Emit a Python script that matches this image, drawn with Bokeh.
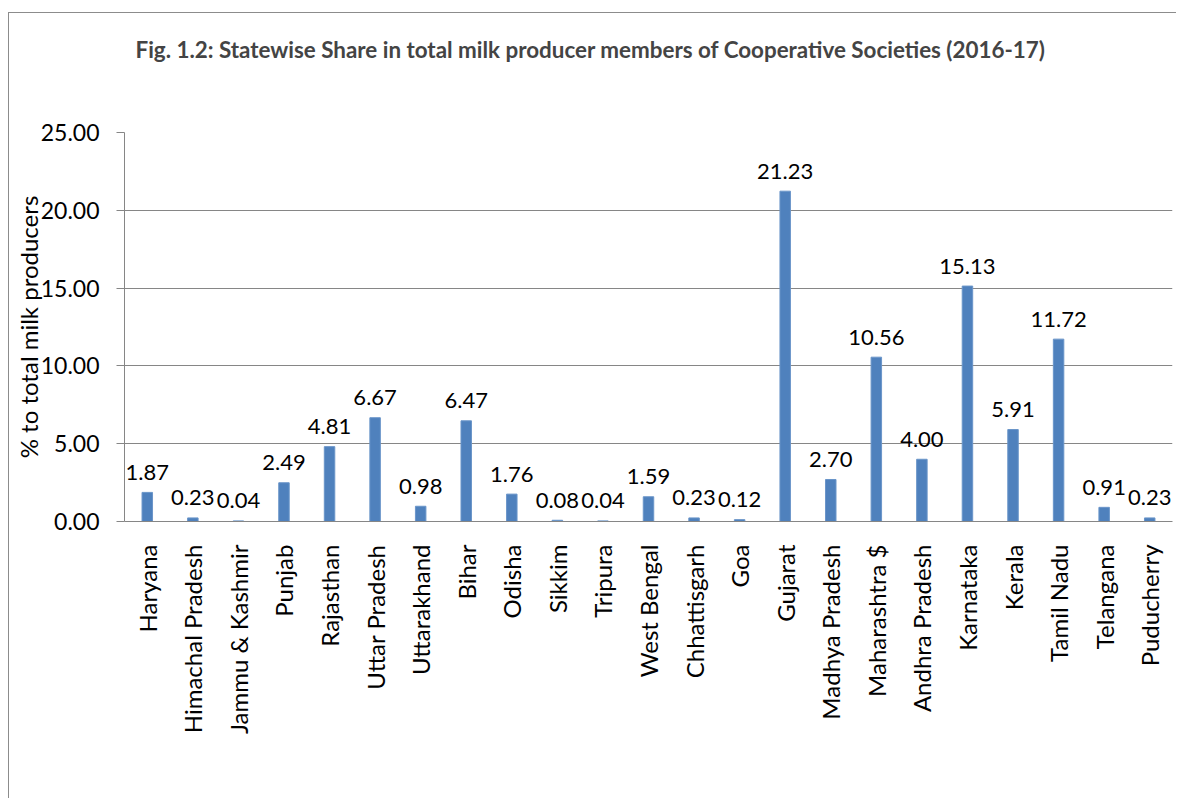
import math
from bokeh.plotting import figure
from bokeh.models import ColumnDataSource, FixedTicker, NumeralTickFormatter, FactorRange, Range1d, Title
from bokeh.core.properties import value
from bokeh.embed import file_html
from bokeh.resources import INLINE

states = ["Haryana", "Himachal Pradesh", "Jammu & Kashmir", "Punjab", "Rajasthan",
          "Uttar Pradesh", "Uttarakhand", "Bihar", "Odisha", "Sikkim", "Tripura",
          "West Bengal", "Chhattisgarh", "Goa", "Gujarat", "Madhya Pradesh",
          "Maharashtra $", "Andhra Pradesh", "Karnataka", "Kerala", "Tamil Nadu",
          "Telangana", "Puducherry"]
shares = [1.87, 0.23, 0.04, 2.49, 4.81, 6.67, 0.98, 6.47, 1.76, 0.08, 0.04,
          1.59, 0.23, 0.12, 21.23, 2.70, 10.56, 4.00, 15.13, 5.91, 11.72, 0.91, 0.23]
y_ticks = [0, 5, 10, 15, 20, 25]
title_text = "Fig. 1.2: Statewise Share in  total  milk producer members  of Cooperative Societies (2016-17)"
y_title = "% to total milk producers"

FONT = "Lato"
GRAY = "#868686"
BLUE = "#4F81BD"

labels = ["%.2f" % v for v in shares]
src = ColumnDataSource(dict(state=states, share=shares, label=labels))

p = figure(x_range=FactorRange(factors=states, range_padding=0),
           y_range=Range1d(0, 25),
           width=1176, height=798, output_backend="svg", toolbar_location=None,
           min_border_left=124, min_border_right=4, min_border_top=132, min_border_bottom=277)

p.border_fill_color = None
p.background_fill_color = "white"
p.outline_line_color = None
p.styles = {"background": "linear-gradient(#8c8c8c,#8c8c8c) left 8px top 12px / 100% 1px no-repeat, "
                          "linear-gradient(#8c8c8c,#8c8c8c) left 8px top 12px / 1px 100% no-repeat, white"}

p.title.text = title_text
p.title.text_font = FONT
p.title.text_font_size = "22.4px"
p.title.text_font_style = "bold"
p.title.align = "left"
p.title.offset = 11
p.title.standoff = 0

# empty spacer between the title and the plot area
spacer = Title(text=" ", text_font_size="1px", standoff=67)
p.add_layout(spacer, "above")

p.vbar(x="state", top="share", width=0.23, source=src,
       fill_color=BLUE, line_color="#6a95c9", line_width=1)

p.text(x="state", y="share", text="label", source=src,
       text_align="center", text_baseline="alphabetic", y_offset=-20,
       text_font=value(FONT), text_font_size="22px", text_color="black")

yax = p.yaxis[0]
yax.ticker = FixedTicker(ticks=y_ticks)
yax.formatter = NumeralTickFormatter(format="0.00")
yax.major_label_text_font = FONT
yax.major_label_text_font_size = "23px"
yax.major_label_text_color = "black"
yax.axis_line_color = GRAY
yax.major_tick_line_color = GRAY
yax.major_tick_out = 8
yax.major_tick_in = 0
yax.minor_tick_line_color = None
yax.major_label_standoff = 17
yax.axis_label = y_title
yax.axis_label_text_font = FONT
yax.axis_label_text_font_size = "24px"
yax.axis_label_text_font_style = "normal"
yax.axis_label_text_color = "black"
yax.axis_label_standoff = -5

xax = p.xaxis[0]
xax.major_label_orientation = math.pi / 2
xax.major_label_text_font = FONT
xax.major_label_text_font_size = "24px"
xax.major_label_text_color = "black"
xax.axis_line_color = GRAY
xax.major_tick_line_color = None
xax.minor_tick_line_color = None
xax.major_label_standoff = 17

p.ygrid.ticker = FixedTicker(ticks=y_ticks)
p.ygrid.grid_line_color = GRAY
p.ygrid.grid_line_width = 1
p.xgrid.grid_line_color = None

open("out.html", "w").write(file_html(p, INLINE))
